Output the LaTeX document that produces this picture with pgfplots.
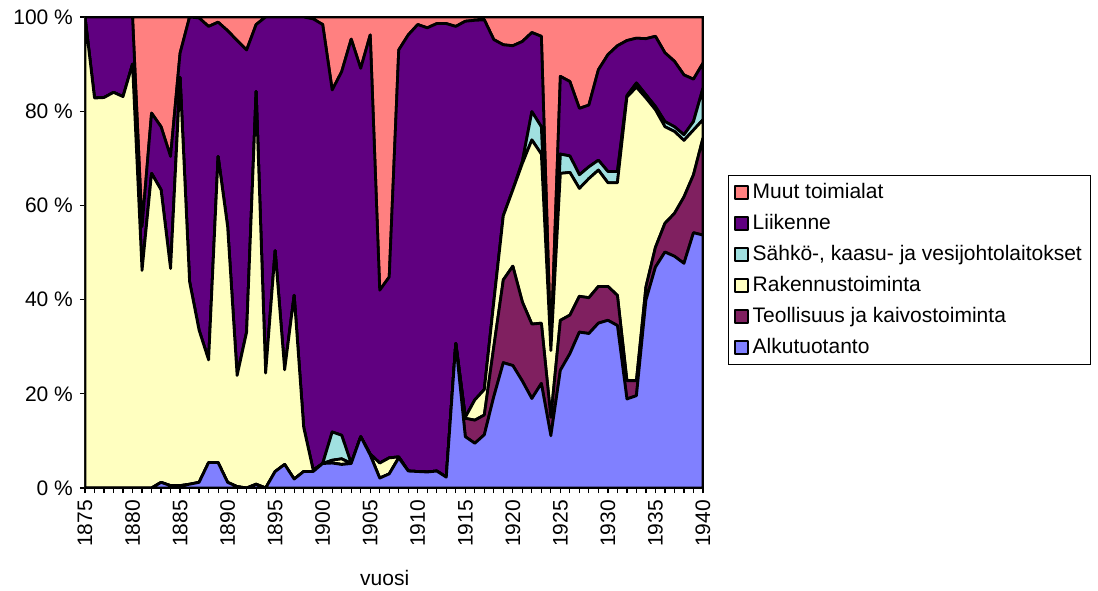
\documentclass[border=0pt]{standalone}
\usepackage{pgfplots}
\pgfplotsset{compat=1.18}
\usepackage{pgfplotstable}
\usepackage{fontspec}
\setmainfont{Liberation Sans}

\definecolor{alku}{HTML}{8080FF}
\definecolor{teol}{HTML}{802060}
\definecolor{rak}{HTML}{FFFFC0}
\definecolor{sah}{HTML}{A0E0E0}
\definecolor{lii}{HTML}{600080}
\definecolor{muu}{HTML}{FF8080}

% shares by year, percent
\pgfplotstableread{
year alku teol rak sah lii muu
1875 0 0 100 0 0 0
1876 0 0 82.8 0 17.2 0
1877 0 0 82.9 0 17.1 0
1878 0 0 84.0 0 16.0 0
1879 0 0 83.1 0 16.9 0
1880 0 0 90.0 0 10.0 0
1881 0 0 46.2 0 9.3 44.5
1882 0 0 66.8 0 12.8 20.4
1883 1.2 0 62.1 0 13.4 23.3
1884 0.5 0 46.1 0 23.8 29.6
1885 0.5 0 86.7 0 5.1 7.7
1886 0.8 0 43.0 0 56.2 0
1887 1.2 0 32.3 0 66.3 0.2
1888 5.4 0 21.8 0 70.8 2.0
1889 5.4 0 65.0 0 28.5 1.1
1890 1.2 0 54.3 0 41.6 2.9
1891 0.3 0 23.6 0 71.1 5.0
1892 0 0 33.1 0 59.9 7.0
1893 0.8 0 83.4 0 14.2 1.6
1894 0 0 24.4 0 75.6 0
1895 3.5 0 46.9 0 49.6 0
1896 5.0 0 20.1 0 74.9 0
1897 1.9 0 39.0 0 59.1 0
1898 3.5 0 9.4 0 87.1 0
1899 3.5 0 0.3 0 95.8 0.4
1900 5.2 0 0 0 93.2 1.6
1901 5.3 0 0.6 6.0 72.6 15.5
1902 5.0 0 1.2 5.0 77.2 11.6
1903 5.2 0 0 0 90.1 4.7
1904 10.9 0 0 0 78.2 10.9
1905 7.0 0 0.2 0 89.0 3.8
1906 2.1 0 3.2 0 36.7 58.0
1907 3.0 0 3.4 0 38.4 55.2
1908 6.4 0 0.2 0 86.4 7.0
1909 3.6 0 0 0 92.6 3.8
1910 3.5 0 0 0 94.9 1.6
1911 3.4 0 0 0 94.3 2.3
1912 3.6 0 0 0 95.0 1.4
1913 2.3 0 0 0 96.3 1.4
1914 30.7 0 0 0 67.3 2.0
1915 10.9 3.9 0.2 0 84.1 0.9
1916 9.5 4.9 4.3 0 80.6 0.7
1917 11.3 4.2 5.4 0 78.5 0.6
1918 19.4 10.6 9.5 0 55.7 4.8
1919 26.6 17.6 13.6 0 36.3 5.9
1920 26.0 21.1 16.2 0 30.6 6.1
1921 22.7 16.8 29.4 0.4 25.5 5.2
1922 19.0 15.8 39.1 6.0 16.8 3.3
1923 22.2 12.8 35.9 5.8 19.2 4.1
1924 11.1 3.9 14.2 0 0.3 70.5
1925 25.0 10.6 31.2 4.1 16.5 12.6
1926 28.5 8.2 30.3 3.5 15.8 13.7
1927 33.1 7.6 22.9 2.9 14.1 19.4
1928 32.8 7.6 25.3 2.5 13.1 18.7
1929 35.0 7.8 24.7 2.1 19.2 11.2
1930 35.6 7.2 22.0 2.4 24.8 8.0
1931 34.5 6.4 23.9 2.4 26.7 6.1
1932 18.9 3.9 60.2 0.3 11.7 5.0
1933 19.6 3.2 62.3 0.9 9.5 4.5
1934 39.9 2.8 40.1 0.7 11.9 4.6
1935 46.9 4.2 29.2 0.7 14.9 4.1
1936 50.1 6.1 20.5 1.1 14.6 7.6
1937 49.2 9.1 17.4 1.0 13.9 9.4
1938 47.7 14.1 12.0 1.2 12.7 12.3
1939 54.2 12.3 9.5 1.8 9.0 13.2
1940 53.7 20.6 3.9 6.7 5.3 9.8
}\shares

\begin{document}
\begin{tikzpicture}
\useasboundingbox (-42.5pt,-51pt) rectangle (506.5pt,244pt);
\begin{axis}[
  scale only axis,
  width=309pt, height=235.5pt,
  xmin=1875, xmax=1940, ymin=0, ymax=100,
  stack plots=y,
  font=\fontsize{10.5}{12}\selectfont,
  /pgf/number format/assume math mode=true,
  /pgf/number format/set thousands separator={},
  xtick={1875,1880,...,1940},
  minor x tick num=4,
  ytick={0,20,...,100},
  yticklabel={\pgfmathprintnumber{\tick}~\%},
  xticklabel style={rotate=90, anchor=east},
  tick align=outside,
  major tick length=2.5pt, minor tick length=2.5pt,
  every tick/.style={black, line width=0.6pt},
  xtick pos=bottom, ytick pos=left,
  axis line style={line width=0.8pt},
  xlabel={vuosi},
  xlabel style={at={(axis description cs:0.485,0)}, anchor=center, yshift=-45pt},
  reverse legend,
  legend image code/.code={\draw[#1, draw=black, line width=1pt] (0pt,-3.3pt) rectangle (6.6pt,3.3pt);},
  legend style={at={(1.0405,0.6645)}, anchor=north west, draw=black, line width=0.5pt,
    font=\fontsize{10.5}{12}\selectfont, cells={anchor=west}, row sep=2.4pt,
    inner xsep=2.5pt, inner ysep=2pt},
  every axis plot/.append style={draw=black, line width=1.4pt, line join=round},
]
\addplot[fill=alku] table[x=year, y=alku] {\shares} \closedcycle;
\addplot[fill=teol] table[x=year, y=teol] {\shares} \closedcycle;
\addplot[fill=rak] table[x=year, y=rak] {\shares} \closedcycle;
\addplot[fill=sah] table[x=year, y=sah] {\shares} \closedcycle;
\addplot[fill=lii] table[x=year, y=lii] {\shares} \closedcycle;
\addplot[fill=muu] table[x=year, y=muu] {\shares} \closedcycle;
\legend{Alkutuotanto, Teollisuus ja kaivostoiminta, Rakennustoiminta,
  {Sähkö-, kaasu- ja vesijohtolaitokset}, Liikenne, Muut toimialat}
\end{axis}
\end{tikzpicture}
\end{document}
